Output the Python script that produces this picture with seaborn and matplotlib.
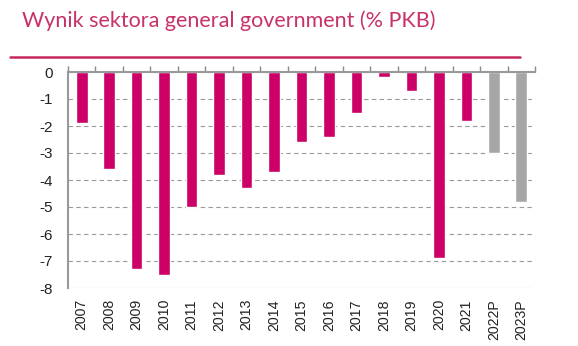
import numpy as np
import pandas as pd
import matplotlib
matplotlib.use("Agg")
import matplotlib.pyplot as plt
import seaborn as sns
from matplotlib.ticker import FixedLocator

years = ["2007", "2008", "2009", "2010", "2011", "2012", "2013", "2014", "2015",
         "2016", "2017", "2018", "2019", "2020", "2021", "2022P", "2023P"]
balance = [-1.9, -3.6, -7.3, -7.5, -5.0, -3.8, -4.3, -3.7, -2.6,
           -2.4, -1.5, -0.2, -0.7, -6.9, -1.8, -3.0, -4.8]
kind = ["actual"] * 15 + ["forecast"] * 2

df = pd.DataFrame({"year": years, "balance": balance, "kind": kind})

sns.set_style("white")
plt.rcParams["font.family"] = ["Liberation Sans", "DejaVu Sans"]

fig = plt.figure(figsize=(5.78, 3.46), dpi=100)
ax = fig.add_axes([68 / 578, 1 - 288 / 346, (535 - 68) / 578, (288 - 72) / 346])

sns.barplot(data=df, x="year", y="balance", hue="kind",
            palette={"actual": "#CC0066", "forecast": "#A6A6A6"},
            dodge=False, width=0.42, legend=False, ax=ax, saturation=1)

ax.set_ylim(-8, 0)
ax.set_xlim(-0.5, len(years) - 0.5)
ax.set_yticks(np.arange(-8, 1, 1))
ax.set_yticklabels([str(v) for v in range(-8, 1)], fontsize=11, color="#222222")
ax.yaxis.grid(True, linestyle=(0, (4, 3)), color="#999999", linewidth=0.8)
ax.set_axisbelow(True)

# year labels at the bottom, tick marks on the zero line at the top
ax.tick_params(axis="x", which="major", length=0, labelsize=10.2,
               labelrotation=90, colors="#222222", pad=8)
ax.xaxis.set_minor_locator(FixedLocator(np.arange(-0.5, len(years), 1)))
ax.tick_params(axis="x", which="minor", top=True, bottom=False, direction="out",
               length=4, color="#888888", width=1)
ax.tick_params(axis="y", length=6, color="#888888", width=1, direction="out", pad=5)

for s in ["right", "bottom"]:
    ax.spines[s].set_visible(False)
ax.spines["top"].set_color("#999999")
ax.spines["top"].set_linewidth(1.5)
ax.spines["left"].set_color("#999999")
ax.spines["left"].set_linewidth(1.5)
ax.set_xlabel("")
ax.set_ylabel("")

fig.text(22 / 578, 1 - 21 / 346, "Wynik sektora general government (% PKB)",
         fontsize=15.5, color="#C8326A", va="center", ha="left",
         family=["Lato", "DejaVu Sans"])
fig.add_artist(plt.Line2D([10 / 578, 520 / 578], [1 - 57 / 346, 1 - 57 / 346],
                          color="#C5285E", linewidth=1.8))

fig.savefig("out.png", dpi=100)
